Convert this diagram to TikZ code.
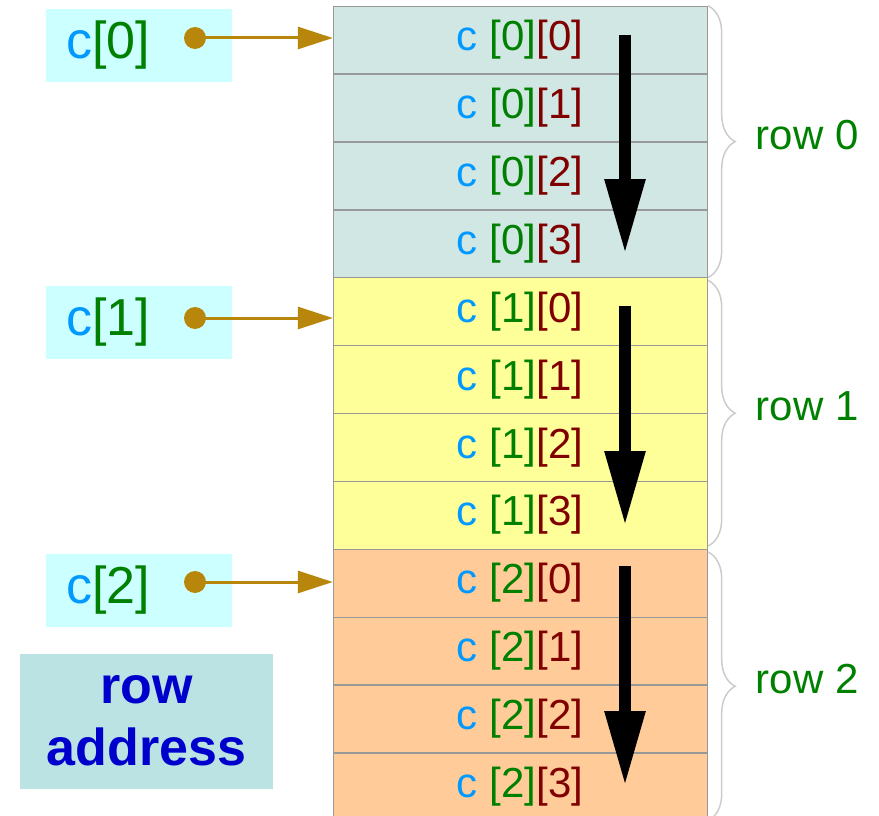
\documentclass[tikz,border=0pt]{standalone}
\usepackage{fontspec}
\setmainfont{Liberation Sans}
\usepackage{xcolor}
\usetikzlibrary{arrows.meta, positioning, decorations.pathreplacing}

\definecolor{rowA}{RGB}{209,231,228}
\definecolor{rowB}{RGB}{255,255,153}
\definecolor{rowC}{RGB}{255,204,153}
\definecolor{ptrbg}{RGB}{204,255,255}
\definecolor{notebg}{RGB}{187,227,227}
\definecolor{notetxt}{RGB}{0,0,204}
\definecolor{cblue}{RGB}{0,153,255}
\definecolor{igreen}{RGB}{0,128,0}
\definecolor{ired}{RGB}{128,0,0}
\definecolor{gold}{RGB}{184,134,11}

\newcommand{\elem}[2]{{\color{cblue}c} {\color{igreen}[#1]}{\color{ired}[#2]}}
\newcommand{\ptr}[1]{{\color{cblue}c}{\color{igreen}[#1]}}

\begin{document}
\begin{tikzpicture}[x=1pt, y=-1pt,
  cell/.style={draw=gray!80, minimum width=374pt, minimum height=67.5pt,
              inner sep=0pt, font=\fontsize{42}{48}\selectfont},
  ptrbox/.style={fill=ptrbg, minimum height=73pt, text width=146pt, inner xsep=20pt,
              inner ysep=0pt, align=left, font=\fontsize{52}{58}\selectfont},
  ptrarr/.style={gold, line width=3pt, -{Triangle[length=35pt, width=22pt]}},
  bigarr/.style={line width=12pt, -{Triangle[length=75pt, width=38pt]}},
  rowbrace/.style={draw=gray!40, line width=1.5pt, decorate,
              decoration={brace, amplitude=27pt}},
  rowlbl/.style={text=igreen, inner sep=0pt, yshift=7pt, font=\fontsize{42}{48}\selectfont}]
\useasboundingbox (0,0) rectangle (879,816);
% memory cells
\node[cell, fill=rowA] (c00) at (520,39.75) {\elem{0}{0}};
\node[cell, fill=rowA, below=0pt of c00] (c01) {\elem{0}{1}};
\node[cell, fill=rowA, below=0pt of c01] (c02) {\elem{0}{2}};
\node[cell, fill=rowA, below=0pt of c02] (c03) {\elem{0}{3}};
\node[cell, fill=rowB, below=0pt of c03] (c10) {\elem{1}{0}};
\node[cell, fill=rowB, below=0pt of c10] (c11) {\elem{1}{1}};
\node[cell, fill=rowB, below=0pt of c11] (c12) {\elem{1}{2}};
\node[cell, fill=rowB, below=0pt of c12] (c13) {\elem{1}{3}};
\node[cell, fill=rowC, below=0pt of c13] (c20) {\elem{2}{0}};
\node[cell, fill=rowC, below=0pt of c20] (c21) {\elem{2}{1}};
\node[cell, fill=rowC, below=0pt of c21] (c22) {\elem{2}{2}};
\node[cell, fill=rowC, below=0pt of c22] (c23) {\elem{2}{3}};
% row pointers
\node[ptrbox] (p0) at (139,45.5) {\ptr{0}};
\node[ptrbox] (p1) at (139,322.5) {\ptr{1}};
\node[ptrbox] (p2) at (139,590.5) {\ptr{2}};
\coordinate (d0) at (195,38);
\coordinate (d1) at (195,318);
\coordinate (d2) at (195,582);
\fill[gold] (d0) circle (11);
\fill[gold] (d1) circle (11);
\fill[gold] (d2) circle (11);
\draw[ptrarr] (d0) -- (d0 -| c00.west);
\draw[ptrarr] (d1) -- (d1 -| c10.west);
\draw[ptrarr] (d2) -- (d2 -| c20.west);
\node[fill=notebg, minimum width=253pt, minimum height=135pt, align=center,
      text=notetxt, font=\fontsize{52}{62}\selectfont\bfseries] (note) at (146.5,721)
      {row\\address};
% storage order
\coordinate (s0) at (625,35);  \coordinate (e0) at (625,254);
\coordinate (s1) at (625,306); \coordinate (e1) at (625,526);
\coordinate (s2) at (625,566); \coordinate (e2) at (625,786);
\draw[bigarr] (s0) -- (e0);
\draw[bigarr] (s1) -- (e1);
\draw[bigarr] (s2) -- (e2);
% rows
\draw[rowbrace] (c00.north east) ++(1,0) coordinate (b0) -- (c03.south east -| b0)
  node[rowlbl, midway, right=47pt] (r0) {row 0};
\draw[rowbrace] (c10.north east) ++(1,3) coordinate (b1) -- ([yshift=3pt]c13.south east -| b1)
  node[rowlbl, midway, right=47pt] (r1) {row 1};
\draw[rowbrace] (c20.north east) ++(1,3) coordinate (b2) -- (c23.south east -| b2)
  node[rowlbl, midway, right=47pt] (r2) {row 2};
\end{tikzpicture}
\end{document}
